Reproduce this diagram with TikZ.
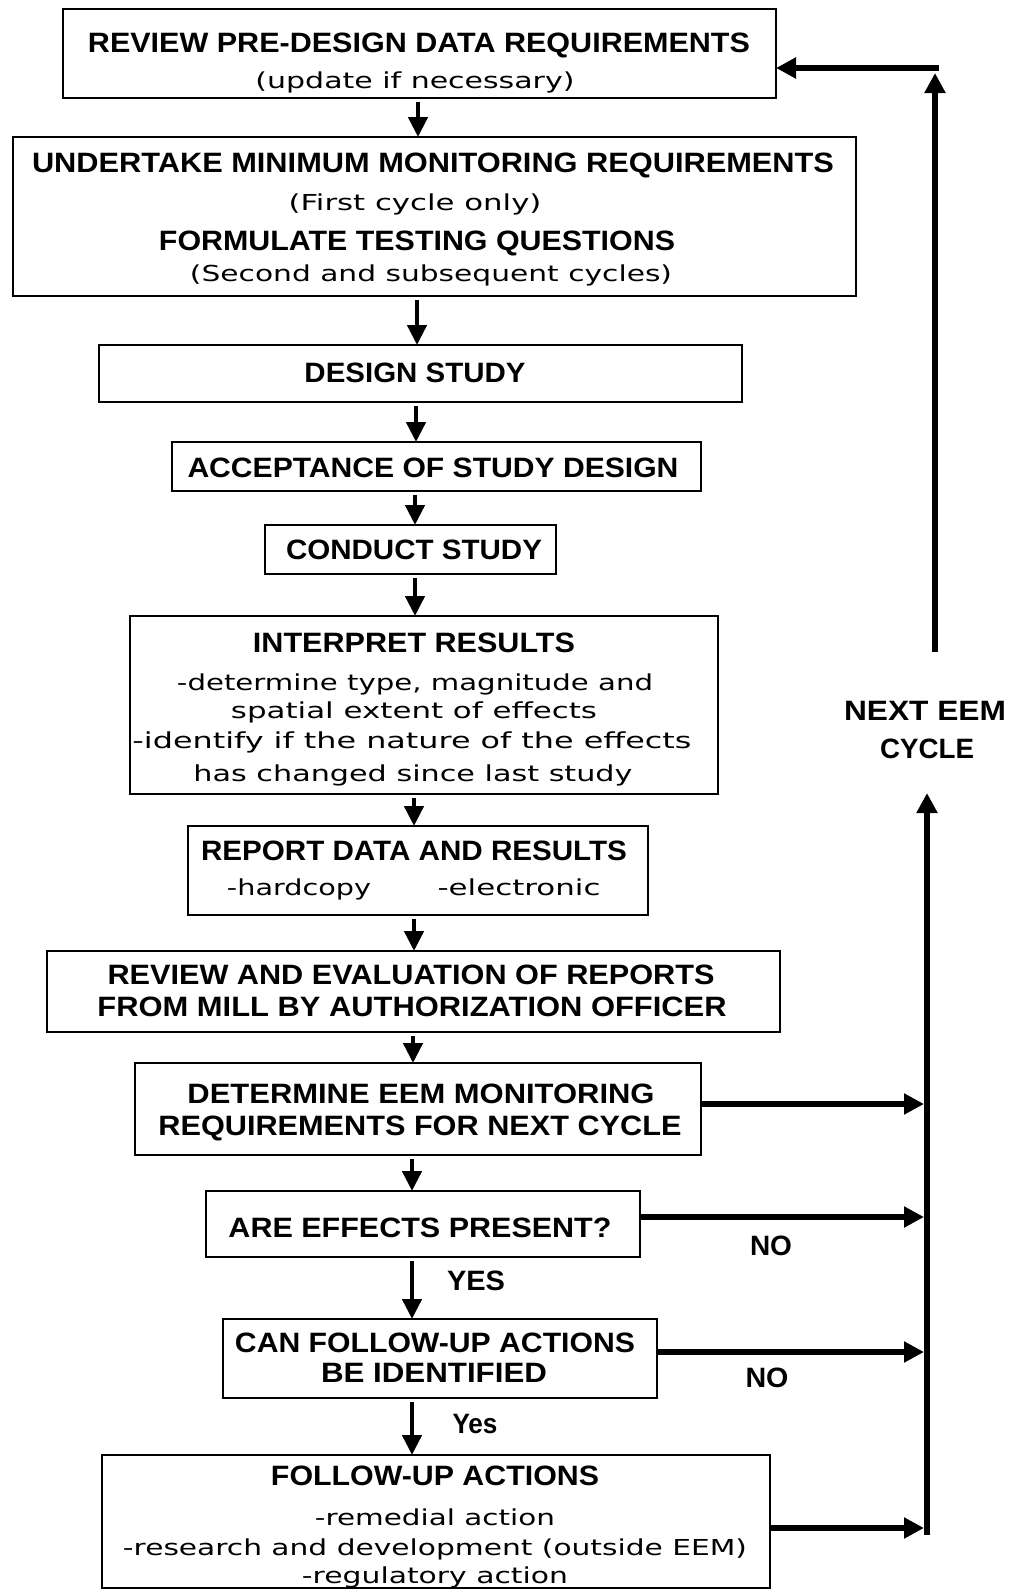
\documentclass[tikz,border=0pt]{standalone}
\usepackage{fontspec}
\setmainfont{Liberation Sans}
\newfontfamily\lcfont{DejaVu Sans}
\usetikzlibrary{arrows.meta}
\newcommand\fw[2]{\resizebox{#1pt}{\height}{#2}}
\tikzset{
  box/.style={draw, line width=2.5pt, inner sep=0pt, outer sep=0pt},
  captxt/.style={inner sep=0pt, anchor=base, font=\fontsize{28}{30}\selectfont\bfseries},
  lowtxt/.style={inner sep=0pt, anchor=base, font=\fontsize{22}{26}\selectfont\lcfont},
  dn/.style={line width=4.5pt, -{Triangle[length=20pt,width=19pt]}, shorten <=4pt},
  rarr/.style={line width=6.5pt, -{Triangle[length=20pt,width=20pt]}},
}
\begin{document}
\begin{tikzpicture}[x=1pt,y=-1pt]
\fill[white] (0,0) rectangle (1019,1590);
\useasboundingbox (0,0) rectangle (1019,1590);

% boxes
\node[box, minimum width=713pt, minimum height=89pt]  (b1)  at (419.5,53.5) {};
\node[box, minimum width=843pt, minimum height=159pt] (b2)  at (434.5,216.5) {};
\node[box, minimum width=643pt, minimum height=57pt]  (b3)  at (420.5,373.5) {};
\node[box, minimum width=529pt, minimum height=49pt]  (b4)  at (436.5,466.5) {};
\node[box, minimum width=291pt, minimum height=49pt]  (b5)  at (410.5,549.5) {};
\node[box, minimum width=588pt, minimum height=178pt] (b6)  at (424,705) {};
\node[box, minimum width=460pt, minimum height=89pt]  (b7)  at (418,870.5) {};
\node[box, minimum width=733pt, minimum height=81pt]  (b8)  at (413.5,991.5) {};
\node[box, minimum width=566pt, minimum height=92pt]  (b9)  at (418,1109) {};
\node[box, minimum width=434pt, minimum height=66pt]  (b10) at (423,1224) {};
\node[box, minimum width=434pt, minimum height=79pt]  (b11) at (440,1358.5) {};
\node[box, minimum width=668pt, minimum height=133pt] (b12) at (436,1521.5) {};

% texts
\node[captxt] (t1a) at (419,52) {\fw{662}{REVIEW PRE-DESIGN DATA REQUIREMENTS}};
\node[lowtxt] (t1b) at (415,88) {\fw{319}{(update if necessary)}};

\node[captxt] (t2a) at (433,172) {\fw{802}{UNDERTAKE MINIMUM MONITORING REQUIREMENTS}};
\node[lowtxt] (t2b) at (415,210) {\fw{253}{(First cycle only)}};
\node[captxt] (t2c) at (417,250) {\fw{516}{FORMULATE TESTING QUESTIONS}};
\node[lowtxt] (t2d) at (431,281) {\fw{482}{(Second and subsequent cycles)}};

\node[captxt] (t3) at (415,382) {\fw{221}{DESIGN STUDY}};
\node[captxt] (t4) at (433,477) {\fw{491}{ACCEPTANCE OF STUDY DESIGN}};
\node[captxt] (t5) at (414,559) {\fw{256}{CONDUCT STUDY}};

\node[captxt] (t6a) at (414,652) {\fw{322}{INTERPRET RESULTS}};
\node[lowtxt] (t6b) at (415,690) {\fw{476}{-determine type, magnitude and}};
\node[lowtxt] (t6c) at (414,718) {\fw{366}{spatial extent of effects}};
\node[lowtxt] (t6d) at (412,748) {\fw{559}{-identify if the nature of the effects}};
\node[lowtxt] (t6e) at (413,781) {\fw{439}{has changed since last study}};

\node[captxt] (t7a) at (414,860) {\fw{426}{REPORT DATA AND RESULTS}};
\node[lowtxt] (t7b) at (299,895) {\fw{144}{-hardcopy}};
\node[lowtxt] (t7c) at (519,895) {\fw{163}{-electronic}};

\node[captxt] (t8a) at (411,984) {\fw{607}{REVIEW AND EVALUATION OF REPORTS}};
\node[captxt] (t8b) at (412,1016) {\fw{629}{FROM MILL BY AUTHORIZATION OFFICER}};

\node[captxt] (t9a) at (421,1103) {\fw{467}{DETERMINE EEM MONITORING}};
\node[captxt] (t9b) at (420,1135) {\fw{523}{REQUIREMENTS FOR NEXT CYCLE}};

\node[captxt] (t10) at (420,1237) {\fw{383}{ARE EFFECTS PRESENT?}};

\node[captxt] (t11a) at (435,1352) {\fw{400}{CAN FOLLOW-UP ACTIONS}};
\node[captxt] (t11b) at (434,1382) {\fw{226}{BE IDENTIFIED}};

\node[captxt] (t12a) at (435,1485) {\fw{328}{FOLLOW-UP ACTIONS}};
\node[lowtxt] (t12b) at (435,1525) {\fw{240}{-remedial action}};
\node[lowtxt] (t12c) at (435,1555) {\fw{624}{-research and development (outside EEM)}};
\node[lowtxt] (t12d) at (435,1583) {\fw{266}{-regulatory action}};

% labels
\node[captxt] (next) at (925,720) {\fw{162}{NEXT EEM}};
\node[captxt] (cyc)  at (927,758) {\fw{94}{CYCLE}};
\node[captxt] (yes1) at (476,1290) {\fw{58}{YES}};
\node[captxt] (yes2) at (475,1433) {\fw{45}{Yes}};
\node[captxt] (no1)  at (771,1255) {\fw{42}{NO}};
\node[captxt] (no2)  at (767,1387) {\fw{43}{NO}};

% main down arrows
\draw[dn] (b1.south -| 418,0)  -- (b2.north -| 418,0);
\draw[dn] (b2.south -| 417,0)  -- (b3.north -| 417,0);
\draw[dn] (b3.south -| 416,0)  -- (b4.north -| 416,0);
\draw[dn] (b4.south -| 415,0)  -- (b5.north -| 415,0);
\draw[dn] (b5.south -| 415,0)  -- (b6.north -| 415,0);
\draw[dn] (b6.south -| 414,0)  -- (b7.north -| 414,0);
\draw[dn] (b7.south -| 414,0)  -- (b8.north -| 414,0);
\draw[dn] (b8.south -| 413,0)  -- (b9.north -| 413,0);
\draw[dn] (b9.south -| 412,0)  -- (b10.north -| 412,0);
\draw[dn] (b10.south -| 412,0) -- (b11.north -| 412,0);
\draw[dn] (b11.south -| 412,0) -- (b12.north -| 412,0);

% right side loop
\coordinate (ub) at (935,652);
\coordinate (ut) at (935,73);
\coordinate (hr) at (938.5,68);
\draw[rarr] (ub) -- (ut);
\draw[rarr] (hr) -- (b1.east |- hr);

\coordinate (lb) at (927,1535);
\coordinate (lt) at (927,793);
\draw[rarr] (lb) -- (lt);
\draw[rarr, shorten >=3pt] (b9.east |- 0,1104)  -- (lb |- 0,1104);
\draw[rarr, shorten >=3pt] (b10.east |- 0,1217) -- (lb |- 0,1217);
\draw[rarr, shorten >=3pt] (b11.east |- 0,1352) -- (lb |- 0,1352);
\draw[rarr, shorten >=3pt] (b12.east |- 0,1528) -- (lb |- 0,1528);
\end{tikzpicture}
\end{document}
